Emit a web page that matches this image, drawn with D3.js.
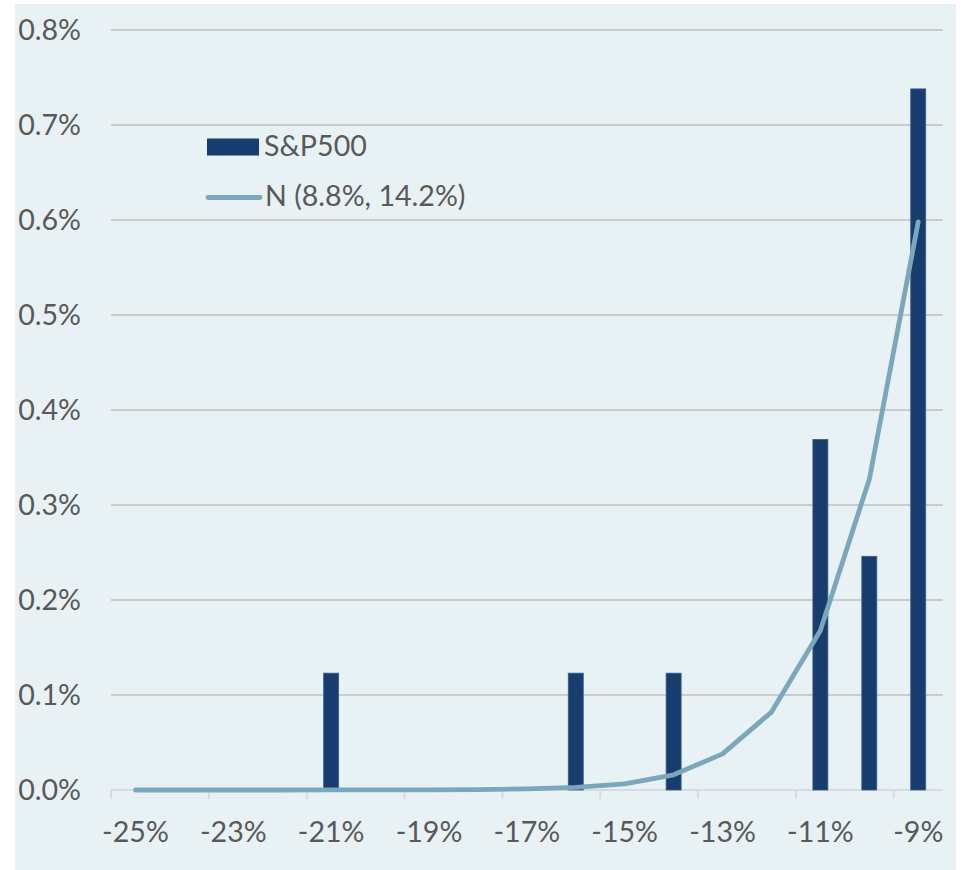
<!DOCTYPE html>
<html>
<head>
<meta charset="utf-8">
<script src="https://cdn.jsdelivr.net/npm/d3@7"></script>
<style>
  html, body { margin: 0; padding: 0; background: #ffffff; }
  svg { display: block; }
</style>
</head>
<body>
<svg id="chart" width="962" height="870"></svg>
<script>
// Data
const categories = [-25, -24, -23, -22, -21, -20, -19, -18, -17, -16, -15, -14, -13, -12, -11, -10, -9];
const sp500 = [0, 0, 0, 0, 0.123, 0, 0, 0, 0, 0.123, 0, 0.123, 0, 0, 0.369, 0.246, 0.738];
const normalLine = [0.0000, 0.0000, 0.0000, 0.0000, 0.0001, 0.0001, 0.0002, 0.0005, 0.0012, 0.0028, 0.0065, 0.016, 0.038, 0.082, 0.168, 0.327, 0.598];
const yTicks = [0, 0.1, 0.2, 0.3, 0.4, 0.5, 0.6, 0.7, 0.8];
const xTickLabels = [-25, -23, -21, -19, -17, -15, -13, -11, -9];
const seriesNames = ["S&P500", "N (8.8%, 14.2%)"];

(function () {
const svg = d3.select("#chart");
const font = "Lato, 'Open Sans', sans-serif";
const fs = 28.6;

// panel background
svg.append("rect").attr("x", 15).attr("y", 4).attr("width", 941).attr("height", 866).attr("fill", "#e8f1f4");

const plotLeft = 111, plotRight = 942.7, plotTop = 30, plotBottom = 790;

const x = d3.scaleBand().domain(categories).range([plotLeft, plotRight]).paddingInner(0).paddingOuter(0);
const y = d3.scaleLinear().domain([0, 0.8]).range([plotBottom, plotTop]);

// gridlines
svg.append("g").selectAll("line").data(yTicks.filter(d => d > 0)).join("line")
  .attr("x1", plotLeft).attr("x2", plotRight)
  .attr("y1", d => y(d)).attr("y2", d => y(d))
  .attr("stroke", "#bfbfbf").attr("stroke-width", 1.6);

// y labels
svg.append("g").selectAll("text").data(yTicks).join("text")
  .attr("x", 81).attr("y", d => y(d))
  .attr("dy", "0.36em")
  .attr("text-anchor", "end")
  .attr("font-family", font).attr("font-size", fs)
  .attr("fill", "#595959")
  .text(d => d.toFixed(1) + "%");

// x axis baseline
svg.append("line").attr("x1", plotLeft).attr("x2", plotRight).attr("y1", plotBottom).attr("y2", plotBottom)
  .attr("stroke", "#d6dbdf").attr("stroke-width", 2);

// tick marks at left boundary of labelled categories
svg.append("g").selectAll("line").data(xTickLabels).join("line")
  .attr("x1", d => x(d)).attr("x2", d => x(d))
  .attr("y1", plotBottom).attr("y2", plotBottom + 9)
  .attr("stroke", "#d6dbdf").attr("stroke-width", 2);

// x labels
svg.append("g").selectAll("text").data(xTickLabels).join("text")
  .attr("x", d => x(d) + x.bandwidth() / 2).attr("y", 841.5)
  .attr("text-anchor", "middle")
  .attr("font-family", font).attr("font-size", fs)
  .attr("fill", "#595959")
  .text(d => d + "%");

// bars
const barW = 15;
svg.append("g").selectAll("rect").data(categories.map((c, i) => ({c, v: sp500[i]})).filter(d => d.v > 0)).join("rect")
  .attr("x", d => x(d.c) + x.bandwidth() / 2 - barW / 2)
  .attr("y", d => y(d.v))
  .attr("width", barW)
  .attr("height", d => y(0) - y(d.v))
  .attr("fill", "#173d6e")
  .attr("stroke", "#3d5f88").attr("stroke-width", 0.8);

// normal line
const line = d3.line()
  .x((d, i) => x(categories[i]) + x.bandwidth() / 2)
  .y(d => y(d));
svg.append("path").datum(normalLine)
  .attr("d", line)
  .attr("fill", "none")
  .attr("stroke", "#7ba7bc")
  .attr("stroke-width", 4.8)
  .attr("stroke-linecap", "round")
  .attr("stroke-linejoin", "round");

// legend
const lg = svg.append("g");
lg.append("rect").attr("x", 207).attr("y", 138.5).attr("width", 52).attr("height", 17).attr("fill", "#173d6e");
lg.append("text").attr("x", 264).attr("y", 156).attr("font-family", font).attr("font-size", fs)
  .attr("fill", "#595959").text(seriesNames[0]);
lg.append("line").attr("x1", 208).attr("x2", 260).attr("y1", 197.5).attr("y2", 197.5)
  .attr("stroke", "#7ba7bc").attr("stroke-width", 4.8).attr("stroke-linecap", "round");
lg.append("text").attr("x", 265).attr("y", 206).attr("font-family", font).attr("font-size", fs)
  .attr("fill", "#595959").text(seriesNames[1]);
})();
</script>
</body>
</html>
